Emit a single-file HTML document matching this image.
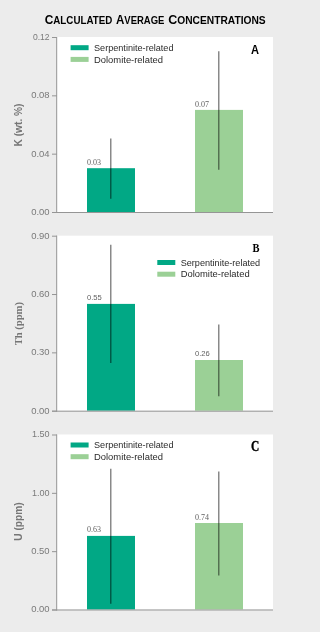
<!DOCTYPE html>
<html><head><meta charset="utf-8"><style>
html,body{margin:0;padding:0;background:#ececec;width:308px;height:632px;overflow:hidden}
svg{display:block;will-change:transform}
</style></head><body>
<svg width="308" height="632" viewBox="0 0 308 632">
<rect x="0" y="0" width="308" height="632" fill="#ececec"/>
<g font-family="Liberation Sans" font-weight="bold" fill="#000" >
<text x="44.7" y="23.5" textLength="67.6" lengthAdjust="spacingAndGlyphs"><tspan font-size="12.3">C</tspan><tspan font-size="10.1">ALCULATED</tspan></text>
<text x="116" y="23.5" textLength="48.4" lengthAdjust="spacingAndGlyphs"><tspan font-size="12.3">A</tspan><tspan font-size="10.1">VERAGE</tspan></text>
<text x="168.2" y="23.5" textLength="97.5" lengthAdjust="spacingAndGlyphs"><tspan font-size="12.3">C</tspan><tspan font-size="10.1">ONCENTRATIONS</tspan></text>
</g>
<rect x="57" y="37" width="216" height="175" fill="#fff"/>
<rect x="87" y="168.2" width="48" height="43.80" fill="#01a885"/>
<rect x="195" y="109.9" width="48" height="102.10" fill="#9bd096"/>
<line x1="110.8" y1="138.6" x2="110.8" y2="198.8" stroke="#000" stroke-opacity="0.58" stroke-width="1.2"/>
<text x="87" y="165.0" font-family="Liberation Serif" font-size="8" fill="#606060">0.03</text>
<line x1="218.8" y1="51.3" x2="218.8" y2="169.8" stroke="#000" stroke-opacity="0.58" stroke-width="1.2"/>
<text x="195" y="107.1" font-family="Liberation Serif" font-size="8" fill="#606060">0.07</text>
<line x1="56.7" y1="37" x2="56.7" y2="213" stroke="#959595" stroke-width="1"/>
<line x1="52" y1="212.5" x2="273" y2="212.5" stroke="#959595" stroke-width="1"/>
<line x1="52" y1="212.50" x2="57" y2="212.50" stroke="#959595" stroke-width="1"/>
<text x="49.6" y="214.90" text-anchor="end" textLength="18.4" lengthAdjust="spacingAndGlyphs" font-family="Liberation Sans" font-size="9.7" fill="#7a7a7a">0.00</text>
<line x1="52" y1="154.17" x2="57" y2="154.17" stroke="#959595" stroke-width="1"/>
<text x="49.6" y="156.57" text-anchor="end" textLength="18.4" lengthAdjust="spacingAndGlyphs" font-family="Liberation Sans" font-size="9.7" fill="#7a7a7a">0.04</text>
<line x1="52" y1="95.83" x2="57" y2="95.83" stroke="#959595" stroke-width="1"/>
<text x="49.6" y="98.23" text-anchor="end" textLength="18.4" lengthAdjust="spacingAndGlyphs" font-family="Liberation Sans" font-size="9.7" fill="#7a7a7a">0.08</text>
<line x1="52" y1="37.50" x2="57" y2="37.50" stroke="#959595" stroke-width="1"/>
<text x="49.6" y="39.90" text-anchor="end" textLength="16.7" lengthAdjust="spacingAndGlyphs" font-family="Liberation Sans" font-size="9.7" fill="#7a7a7a">0.12</text>
<rect x="70.6" y="45.2" width="18" height="5" fill="#01a885"/>
<rect x="70.6" y="56.900000000000006" width="18" height="5" fill="#9bd096"/>
<text x="94.0" y="50.80" textLength="79.5" lengthAdjust="spacingAndGlyphs" font-family="Liberation Sans" font-size="8.8" fill="#2a2a2a">Serpentinite-related</text>
<text x="94.0" y="62.50" textLength="69" lengthAdjust="spacingAndGlyphs" font-family="Liberation Sans" font-size="8.8" fill="#2a2a2a">Dolomite-related</text>
<text x="251" y="53.55" textLength="8.00" lengthAdjust="spacingAndGlyphs" font-family="Liberation Sans" font-weight="bold" font-size="12.5" fill="#000" stroke="#000" stroke-width="0">A</text>
<text transform="translate(22,125.0) rotate(-90)" text-anchor="middle" font-family="Liberation Sans" font-weight="bold" font-size="10.2" fill="#767676">K (wt. %)</text>
<rect x="57" y="235.7" width="216" height="175" fill="#fff"/>
<rect x="87" y="303.9" width="48" height="106.80" fill="#01a885"/>
<rect x="195" y="360.0" width="48" height="50.70" fill="#9bd096"/>
<line x1="110.8" y1="244.8" x2="110.8" y2="363.1" stroke="#000" stroke-opacity="0.58" stroke-width="1.2"/>
<text x="87" y="299.9" font-family="Liberation Sans" font-size="7.6" fill="#606060">0.55</text>
<line x1="218.8" y1="324.6" x2="218.8" y2="396.3" stroke="#000" stroke-opacity="0.58" stroke-width="1.2"/>
<text x="195" y="356.3" font-family="Liberation Sans" font-size="7.6" fill="#606060">0.26</text>
<line x1="56.7" y1="235.7" x2="56.7" y2="411.7" stroke="#959595" stroke-width="1"/>
<line x1="52" y1="411.2" x2="273" y2="411.2" stroke="#959595" stroke-width="1"/>
<line x1="52" y1="411.20" x2="57" y2="411.20" stroke="#959595" stroke-width="1"/>
<text x="49.6" y="413.60" text-anchor="end" textLength="18.4" lengthAdjust="spacingAndGlyphs" font-family="Liberation Sans" font-size="9.7" fill="#7a7a7a">0.00</text>
<line x1="52" y1="352.87" x2="57" y2="352.87" stroke="#959595" stroke-width="1"/>
<text x="49.6" y="355.27" text-anchor="end" textLength="18.4" lengthAdjust="spacingAndGlyphs" font-family="Liberation Sans" font-size="9.7" fill="#7a7a7a">0.30</text>
<line x1="52" y1="294.53" x2="57" y2="294.53" stroke="#959595" stroke-width="1"/>
<text x="49.6" y="296.93" text-anchor="end" textLength="18.4" lengthAdjust="spacingAndGlyphs" font-family="Liberation Sans" font-size="9.7" fill="#7a7a7a">0.60</text>
<line x1="52" y1="236.20" x2="57" y2="236.20" stroke="#959595" stroke-width="1"/>
<text x="49.6" y="238.60" text-anchor="end" textLength="18.4" lengthAdjust="spacingAndGlyphs" font-family="Liberation Sans" font-size="9.7" fill="#7a7a7a">0.90</text>
<rect x="157.3" y="260.0" width="18" height="5" fill="#01a885"/>
<rect x="157.3" y="271.7" width="18" height="5" fill="#9bd096"/>
<text x="180.70000000000002" y="265.60" textLength="79.5" lengthAdjust="spacingAndGlyphs" font-family="Liberation Sans" font-size="8.8" fill="#2a2a2a">Serpentinite-related</text>
<text x="180.70000000000002" y="277.30" textLength="69" lengthAdjust="spacingAndGlyphs" font-family="Liberation Sans" font-size="8.8" fill="#2a2a2a">Dolomite-related</text>
<text x="252.5" y="252.30" textLength="7.00" lengthAdjust="spacingAndGlyphs" font-family="Liberation Serif" font-weight="bold" font-size="13.5" fill="#000" stroke="#000" stroke-width="0">B</text>
<text transform="translate(22,323.7) rotate(-90)" text-anchor="middle" font-family="Liberation Serif" font-weight="bold" font-size="10.6" fill="#767676">Th (ppm)</text>
<rect x="57" y="434.5" width="216" height="175" fill="#fff"/>
<rect x="87" y="535.9" width="48" height="73.60" fill="#01a885"/>
<rect x="195" y="523.0" width="48" height="86.50" fill="#9bd096"/>
<line x1="110.8" y1="468.8" x2="110.8" y2="603.8" stroke="#000" stroke-opacity="0.58" stroke-width="1.2"/>
<text x="87" y="532.4" font-family="Liberation Serif" font-size="8" fill="#606060">0.63</text>
<line x1="218.8" y1="471.6" x2="218.8" y2="575.6" stroke="#000" stroke-opacity="0.58" stroke-width="1.2"/>
<text x="195" y="519.5" font-family="Liberation Serif" font-size="8" fill="#606060">0.74</text>
<line x1="56.7" y1="434.5" x2="56.7" y2="610.5" stroke="#959595" stroke-width="1"/>
<line x1="52" y1="610.0" x2="273" y2="610.0" stroke="#959595" stroke-width="1"/>
<line x1="52" y1="610.00" x2="57" y2="610.00" stroke="#959595" stroke-width="1"/>
<text x="49.6" y="612.40" text-anchor="end" textLength="18.4" lengthAdjust="spacingAndGlyphs" font-family="Liberation Sans" font-size="9.7" fill="#7a7a7a">0.00</text>
<line x1="52" y1="551.67" x2="57" y2="551.67" stroke="#959595" stroke-width="1"/>
<text x="49.6" y="554.07" text-anchor="end" textLength="18.4" lengthAdjust="spacingAndGlyphs" font-family="Liberation Sans" font-size="9.7" fill="#7a7a7a">0.50</text>
<line x1="52" y1="493.33" x2="57" y2="493.33" stroke="#959595" stroke-width="1"/>
<text x="49.6" y="495.73" text-anchor="end" textLength="17.6" lengthAdjust="spacingAndGlyphs" font-family="Liberation Sans" font-size="9.7" fill="#7a7a7a">1.00</text>
<line x1="52" y1="435.00" x2="57" y2="435.00" stroke="#959595" stroke-width="1"/>
<text x="49.6" y="437.40" text-anchor="end" textLength="17.6" lengthAdjust="spacingAndGlyphs" font-family="Liberation Sans" font-size="9.7" fill="#7a7a7a">1.50</text>
<rect x="70.6" y="442.5" width="18" height="5" fill="#01a885"/>
<rect x="70.6" y="454.2" width="18" height="5" fill="#9bd096"/>
<text x="94.0" y="448.10" textLength="79.5" lengthAdjust="spacingAndGlyphs" font-family="Liberation Sans" font-size="8.8" fill="#2a2a2a">Serpentinite-related</text>
<text x="94.0" y="459.80" textLength="69" lengthAdjust="spacingAndGlyphs" font-family="Liberation Sans" font-size="8.8" fill="#2a2a2a">Dolomite-related</text>
<text x="251" y="450.55" textLength="8.30" lengthAdjust="spacingAndGlyphs" font-family="Liberation Serif" font-weight="bold" font-size="14" fill="#000" stroke="#000" stroke-width="0.35">C</text>
<text transform="translate(22,521.5) rotate(-90)" text-anchor="middle" font-family="Liberation Sans" font-weight="bold" font-size="10.2" fill="#767676">U (ppm)</text>
</svg></body></html>
